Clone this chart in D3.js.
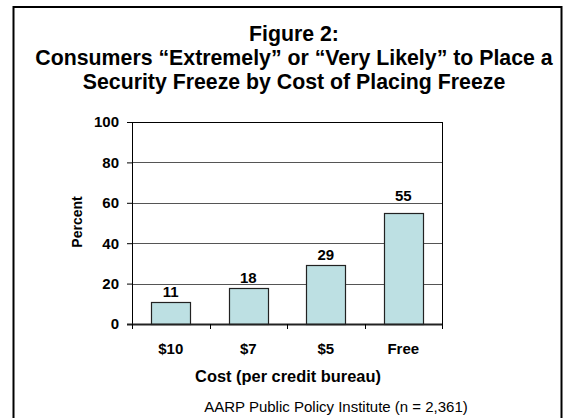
<!DOCTYPE html>
<html>
<head>
<meta charset="utf-8">
<script src="https://cdn.jsdelivr.net/npm/d3@7"></script>
<style>
  html, body { margin: 0; padding: 0; background: #fff; }
  svg { display: block; font-family: "Liberation Sans", Arial, sans-serif; }
</style>
</head>
<body>
<div id="chart"></div>
<script>
// Data
var categories = [ '$10', '$7', '$5', 'Free' ];
var values     = [ 11, 18, 29, 55 ];
var yTicks     = [ 0, 20, 40, 60, 80, 100 ];
var titleLines = [ 'Figure 2:', 'Consumers \u201cExtremely\u201d or \u201cVery Likely\u201d to Place a', 'Security Freeze by Cost of Placing Freeze' ];

var W = 565, H = 418;
var margin = { top: 122, left: 132, right: 123, bottom: 94 };
var iw = W - margin.left - margin.right;
var ih = H - margin.top - margin.bottom;

var svg = d3.select( '#chart' ).append( 'svg' )
  .attr( 'width', W ).attr( 'height', H );

// outer frame
svg.append( 'rect' )
  .attr( 'x', 13.5 ).attr( 'y', 7 ).attr( 'width', 548 ).attr( 'height', 420 )
  .attr( 'fill', 'none' ).attr( 'stroke', '#000' ).attr( 'stroke-width', 2 );

// title
svg.append( 'g' ).selectAll( 'text' ).data( titleLines ).join( 'text' )
  .attr( 'x', 294 )
  .attr( 'y', function ( d, i ) { return 41 + i * 24; } )
  .attr( 'text-anchor', 'middle' )
  .style( 'font-size', '21.3px' ).style( 'font-weight', 'bold' )
  .text( function ( d ) { return d; } );

var g = svg.append( 'g' ).attr( 'transform', 'translate(' + margin.left + ',' + margin.top + ')' );

var x = d3.scaleBand().domain( categories ).range( [ 0, iw ] ).paddingInner( 0.5 ).paddingOuter( 0.25 );
var y = d3.scaleLinear().domain( [ 0, 100 ] ).range( [ ih, 0 ] );

// grid
g.append( 'g' ).selectAll( 'line' ).data( yTicks.slice( 1 ) ).join( 'line' )
  .attr( 'x1', 0 ).attr( 'x2', iw )
  .attr( 'y1', function ( d ) { return Math.round( y( d ) ) + 0.5; } )
  .attr( 'y2', function ( d ) { return Math.round( y( d ) ) + 0.5; } )
  .attr( 'stroke', function ( d ) { return d === 100 ? '#000' : '#555'; } )
  .attr( 'stroke-width', 1 );

// right border
g.append( 'line' ).attr( 'x1', iw + 0.5 ).attr( 'x2', iw + 0.5 ).attr( 'y1', 0 ).attr( 'y2', ih )
  .attr( 'stroke', '#000' );

// bars
g.selectAll( 'rect.bar' ).data( values ).join( 'rect' )
  .attr( 'class', 'bar' )
  .attr( 'x', function ( d, i ) { return Math.round( x( categories[ i ] ) ) + 0.5; } )
  .attr( 'y', function ( d ) { return Math.round( y( d ) ) + 0.5; } )
  .attr( 'width', Math.round( x.bandwidth() ) )
  .attr( 'height', function ( d ) { return Math.round( ih ) - Math.round( y( d ) ); } )
  .attr( 'fill', '#bde0e3' )
  .attr( 'stroke', '#222' ).attr( 'stroke-width', 1.2 );

// value labels: sit just above the bar, nudged above a gridline they would cross
var capH = 10.5;
function labelY( v ) {
  var base = y( v ) - 5;
  yTicks.forEach( function ( t ) {
    var gy = y( t );
    if ( base > gy && base - capH < gy ) base = gy - 2;
  } );
  return base;
}
g.selectAll( 'text.value' ).data( values ).join( 'text' )
  .attr( 'class', 'value' )
  .attr( 'x', function ( d, i ) { return x( categories[ i ] ) + x.bandwidth() / 2; } )
  .attr( 'y', labelY )
  .attr( 'text-anchor', 'middle' )
  .style( 'font-size', '15px' ).style( 'font-weight', 'bold' )
  .text( function ( d ) { return d; } );

// y axis
g.append( 'g' )
  .call( d3.axisLeft( y ).tickValues( yTicks ).tickSize( 5 ).tickPadding( 8 ) )
  .call( function ( s ) {
    s.select( '.domain' ).attr( 'stroke', '#000' ).attr( 'd', 'M0.5,0V' + ih );
    s.selectAll( 'line' ).attr( 'stroke', '#000' );
    s.selectAll( 'text' ).attr( 'fill', '#000' )
      .style( 'font-size', '15px' ).style( 'font-weight', 'bold' )
      .style( 'font-family', '"Liberation Sans", Arial, sans-serif' );
  } );

// x axis with ticks at band boundaries
var bounds = d3.range( categories.length + 1 ).map( function ( i ) { return i * iw / categories.length; } );
var xa = g.append( 'g' ).attr( 'transform', 'translate(0,' + ih + ')' );
xa.append( 'line' ).attr( 'x1', -5 ).attr( 'x2', iw ).attr( 'y1', 0.5 ).attr( 'y2', 0.5 )
  .attr( 'stroke', '#222' ).attr( 'stroke-width', 2 );
xa.selectAll( 'line.tick' ).data( bounds ).join( 'line' )
  .attr( 'class', 'tick' )
  .attr( 'x1', function ( d ) { return Math.round( d ) + 0.5; } )
  .attr( 'x2', function ( d ) { return Math.round( d ) + 0.5; } )
  .attr( 'y1', 0 ).attr( 'y2', 5 ).attr( 'stroke', '#000' );
xa.selectAll( 'text' ).data( categories ).join( 'text' )
  .attr( 'x', function ( d ) { return x( d ) + x.bandwidth() / 2; } )
  .attr( 'y', 29.5 )
  .attr( 'text-anchor', 'middle' )
  .style( 'font-size', '15px' ).style( 'font-weight', 'bold' )
  .text( function ( d ) { return d; } );

// axis titles
svg.append( 'text' )
  .attr( 'transform', 'translate(82,222) rotate(-90)' )
  .attr( 'text-anchor', 'middle' )
  .style( 'font-size', '14px' ).style( 'font-weight', 'bold' )
  .text( 'Percent' );

svg.append( 'text' )
  .attr( 'x', 288 ).attr( 'y', 382 )
  .attr( 'text-anchor', 'middle' )
  .style( 'font-size', '16.4px' ).style( 'font-weight', 'bold' )
  .text( 'Cost (per credit bureau)' );

svg.append( 'text' )
  .attr( 'x', 336 ).attr( 'y', 412 )
  .attr( 'text-anchor', 'middle' )
  .style( 'font-size', '15px' )
  .text( 'AARP Public Policy Institute (n = 2,361)' );
</script>
</body>
</html>
